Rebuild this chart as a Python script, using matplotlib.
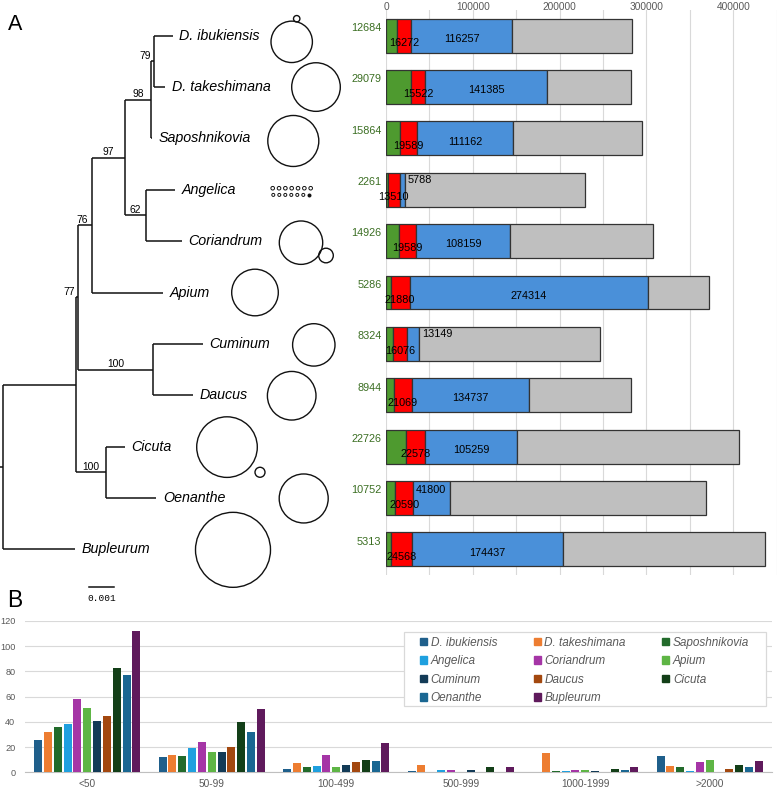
import matplotlib
matplotlib.use("Agg")
import matplotlib.pyplot as plt
from matplotlib.patches import Patch, Rectangle

plt.rcParams['font.family'] = ['Liberation Sans', 'DejaVu Sans']

# ---- data ----
species = ['D. ibukiensis', 'D. takeshimana', 'Saposhnikovia', 'Angelica',
           'Coriandrum', 'Apium', 'Cuminum', 'Daucus', 'Cicuta', 'Oenanthe',
           'Bupleurum']

# panel A, stacked segments of each bar
seg_green = [12684, 29079, 15864, 2261, 14926, 5286, 8324, 8944, 22726, 10752, 5313]
seg_red = [16272, 15522, 19589, 13510, 19589, 21880, 16076, 21069, 22578, 20590, 24568]
seg_blue = [116257, 141385, 111162, 5788, 108159, 274314, 13149, 134737, 105259, 41800, 174437]
seg_gray = [137900, 96300, 148400, 207300, 165000, 71000, 209500, 117000, 256000, 295000, 232000]

# circles next to the tips (radius in px), second small circle, Angelica dots
circle_radius = [20.7, 24.3, 25.5, 0, 21.7, 23.3, 21.2, 24.3, 30.3, 24.5, 37.5]
small_radius = [3.2, 0, 0, 0, 7.3, 0, 0, 0, 5.0, 0, 0]
angelica_dots = 14

# tree: (name, branch length, children)
tree = ('root', 0.00011, [
    ('ingroup', 0.00297, [
        ('n77', 0.00009, [
            ('n76', 0.00054, [
                ('n97', 0.00135, [
                    ('n98', 0.00104, [
                        ('n79', 0.00013, [('D. ibukiensis', 0.00076, []),
                                          ('D. takeshimana', 0.00047, [])]),
                        ('Saposhnikovia', 0.00006, [])]),
                    ('n62', 0.00085, [('Angelica', 0.00117, []),
                                      ('Coriandrum', 0.00145, [])])]),
                ('Apium', 0.00289, [])]),
            ('n100a', 0.00301, [('Cuminum', 0.00202, []),
                                ('Daucus', 0.00164, [])])]),
        ('n100b', 0.00120, [('Cicuta', 0.00078, []),
                            ('Oenanthe', 0.00204, [])])]),
    ('Bupleurum', 0.00293, [])])
support = {'n79': 79, 'n98': 98, 'n97': 97, 'n62': 62, 'n76': 76,
           'n77': 77, 'n100a': 100, 'n100b': 100}

# panel B
bins = ['<50', '50-99', '100-499', '500-999', '1000-1999', '>2000']
cnt_dibu = [26, 12, 3, 1, 0, 13]
cnt_dtak = [32, 14, 7, 6, 15, 5]
cnt_sap = [36, 13, 4, 0, 1, 4]
cnt_ang = [38, 19, 5, 2, 1, 1]
cnt_cor = [58, 24, 14, 2, 2, 8]
cnt_api = [51, 16, 4, 0, 2, 10]
cnt_cum = [41, 16, 6, 2, 1, 0]
cnt_dau = [45, 20, 8, 0, 0, 3]
cnt_cic = [83, 40, 10, 4, 3, 6]
cnt_oen = [77, 32, 9, 0, 2, 4]
cnt_bup = [112, 50, 23, 4, 4, 9]
counts = [cnt_dibu, cnt_dtak, cnt_sap, cnt_ang, cnt_cor, cnt_api,
          cnt_cum, cnt_dau, cnt_cic, cnt_oen, cnt_bup]
b_colors = ['#1F5F8B', '#ED7D31', '#226B2B', '#1FA0DF', '#A535A6', '#5EB545',
            '#133B57', '#A3480F', '#133F18', '#1A6792', '#5F1A5C']

W, H = 778, 788
fig = plt.figure(figsize=(W / 100, H / 100), dpi=100)


def ax_px(left, top, right, bottom):
    return fig.add_axes([left / W, 1 - bottom / H, (right - left) / W, (bottom - top) / H])


# ---- tree ----
PX = 24700.0  # px per substitution unit
axt = ax_px(0, 10, 386, 575)
axt.set_xlim(0, 386 / PX)
axt.set_ylim(10.5, -0.5)
axt.axis('off')
lw_tree = 1.1
counter = [0]


def draw(node, x0):
    name, bl, kids = node
    x = x0 + bl
    if not kids:
        y = counter[0]
        counter[0] += 1
        axt.annotate(name, (x, y), xytext=(4.8, 0), textcoords='offset points',
                     ha='left', va='center', fontsize=10.3, style='italic')
    else:
        ys = [draw(k, x) for k in kids]
        y = (ys[0] + ys[-1]) / 2
        axt.plot([x, x], [ys[0], ys[-1]], color='#111111', lw=lw_tree,
                 solid_capstyle='butt')
        if name in support:
            if bl * PX >= 15:
                axt.annotate(str(support[name]), ((x0 + x) / 2, y), xytext=(0, 0.3),
                             textcoords='offset points', ha='center', va='bottom', fontsize=7.4)
            else:
                axt.annotate(str(support[name]), (x, y), xytext=(-2.4, 0.3),
                             textcoords='offset points', ha='right', va='bottom', fontsize=7.4)
    axt.plot([x0, x], [y, y], color='#111111', lw=lw_tree, solid_capstyle='butt')
    return y


draw(tree, 0.0)

# scale bar
axt.plot([89.3 / PX, 89.3 / PX + 0.001], [10.74, 10.74], color='#111111', lw=1.1, clip_on=False)
axt.text(89.3 / PX + 0.0005, 10.95, '0.001', ha='center', va='center', fontsize=6.8,
         family='Liberation Mono')

# circles
cx_px = [291.7, 316, 293.3, 0, 301, 255, 313.8, 291.7, 227, 303.7, 233]
cy_off = [0.12, 0, 0.05, 0, 0.03, 0, 0.02, 0.01, 0.01, 0.01, 0.01]
for i, r in enumerate(circle_radius):
    if r > 0:
        axt.scatter([cx_px[i] / PX], [i + cy_off[i]], s=(1.44 * r) ** 2, facecolor='none',
                    edgecolor='#111111', linewidth=1.0, clip_on=False, zorder=3)
sm_pos = {0: (296.7, -0.33), 4: (326, 4.28), 8: (260, 8.5)}
for i, r in enumerate(small_radius):
    if r > 0:
        px, py = sm_pos[i]
        axt.scatter([px / PX], [py], s=(1.44 * r) ** 2, facecolor='none',
                    edgecolor='#111111', linewidth=1.0, clip_on=False, zorder=3)
half = angelica_dots // 2
for k in range(angelica_dots):
    row, col = divmod(k, half)
    px = 272.7 + 6.33 * col if row == 0 else 273.3 + 6.0 * col
    py = 2.97 if row == 0 else 3.10
    r = 1.8 if row == 0 else 1.5
    filled = (row == 1 and col == half - 1)
    axt.scatter([px / PX], [py], s=(1.44 * r) ** 2,
                facecolor='#111111' if filled else 'none',
                edgecolor='#111111', linewidth=0.7, clip_on=False, zorder=3)

# ---- panel A bars ----
axa = ax_px(386, 10, 776.7, 575)
ypos = list(range(len(species)))
left = [0] * len(species)
for seg, col in [(seg_green, '#4E9A2F'), (seg_red, '#FF0000'),
                 (seg_blue, '#4A90D9'), (seg_gray, '#BFBFBF')]:
    axa.barh(ypos, seg, left=left, height=0.66, color=col, edgecolor='#333333',
             linewidth=0.9, zorder=3)
    left = [a + b for a, b in zip(left, seg)]

for i in ypos:
    g, r, b = seg_green[i], seg_red[i], seg_blue[i]
    axa.annotate(str(g), (0, i), xytext=(-3.3, 5.5), textcoords='offset points',
                 ha='right', va='center', fontsize=7.8, color='#3B6E22', annotation_clip=False)
    axa.annotate(str(r), (g + r / 2, i), xytext=(0, -5.3), textcoords='offset points',
                 ha='center', va='center', fontsize=7.8, color='black', zorder=5)
    if b < 20000:
        axa.annotate(str(b), (g + r + b, i), xytext=(2.2, 7.3), textcoords='offset points',
                     ha='left', va='center', fontsize=7.8, color='black', zorder=5)
    elif b < 50000:
        axa.annotate(str(b), (g + r + b / 2, i), xytext=(0, 5.8), textcoords='offset points',
                     ha='center', va='center', fontsize=7.8, color='black', zorder=5)
    else:
        axa.annotate(str(b), (g + r + b / 2, i), xytext=(0, -2.3), textcoords='offset points',
                     ha='center', va='center', fontsize=7.8, color='black', zorder=5)

axa.set_xlim(0, 450000)
axa.set_ylim(10.5, -0.5)
axa.set_xticks(range(0, 400001, 100000))
axa.set_xticks(range(50000, 450001, 100000), minor=True)
axa.xaxis.tick_top()
axa.tick_params(axis='x', which='both', length=0, pad=-1.3, labelsize=7.3, labelcolor='#595959')
axa.set_yticks([])
axa.grid(axis='x', which='both', color='#D9D9D9', lw=0.8, zorder=0)
for s in axa.spines.values():
    s.set_visible(False)

# ---- panel B ----
axb = ax_px(25, 621, 772, 772.3)
slot, bw = 0.079, 0.064
for j, (cnt, col) in enumerate(zip(counts, b_colors)):
    xs = [k + (j - 5) * slot for k in range(len(bins))]
    axb.bar(xs, cnt, width=bw, color=col, label=species[j], zorder=3)
axb.set_xlim(-0.5, len(bins) - 0.5)
axb.set_ylim(0, 120)
axb.set_yticks(range(0, 121, 20))
axb.set_xticks(range(len(bins)))
axb.set_xticklabels(bins)
axb.tick_params(axis='x', length=0, pad=4.8, labelsize=7.3, labelcolor='#595959')
axb.tick_params(axis='y', length=0, pad=7, labelsize=6.6, labelcolor='#595959')
axb.grid(axis='y', color='#D9D9D9', lw=0.8, zorder=0)
for k, s in axb.spines.items():
    s.set_visible(k == 'bottom')
axb.spines['bottom'].set_color('#BFBFBF')

# legend box drawn separately so the entries can sit like the original
y0 = 772.3
axb.add_patch(Rectangle(((404 - 25) / 747, (y0 - 706) / 151.3), 361.7 / 747, 74.3 / 151.3,
                        transform=axb.transAxes, facecolor='white', edgecolor='#D9D9D9',
                        linewidth=0.9, zorder=4, clip_on=False))
handles = [Patch(color=c, label=s) for s, c in zip(species, b_colors)]
order = [0, 3, 6, 9, 1, 4, 7, 10, 2, 5, 8]
leg = axb.legend([handles[k] for k in order], [species[k] for k in order], ncol=3,
                 loc='upper left', bbox_to_anchor=((420 - 25) / 747, (y0 - 636.5) / 151.3),
                 borderaxespad=0, borderpad=0, frameon=False,
                 handlelength=0.6, handleheight=0.6, handletextpad=0.3,
                 labelspacing=0.56, columnspacing=3.1,
                 prop={'style': 'italic', 'size': 8.5}, labelcolor='#595959')
leg.set_zorder(5)

fig.text(8 / W, 1 - 30 / H, 'A', fontsize=15.5, va='baseline', ha='left')
fig.text(7 / W, 1 - 607 / H, 'B', fontsize=16.5, va='baseline', ha='left')

fig.savefig('out.png', dpi=100)
